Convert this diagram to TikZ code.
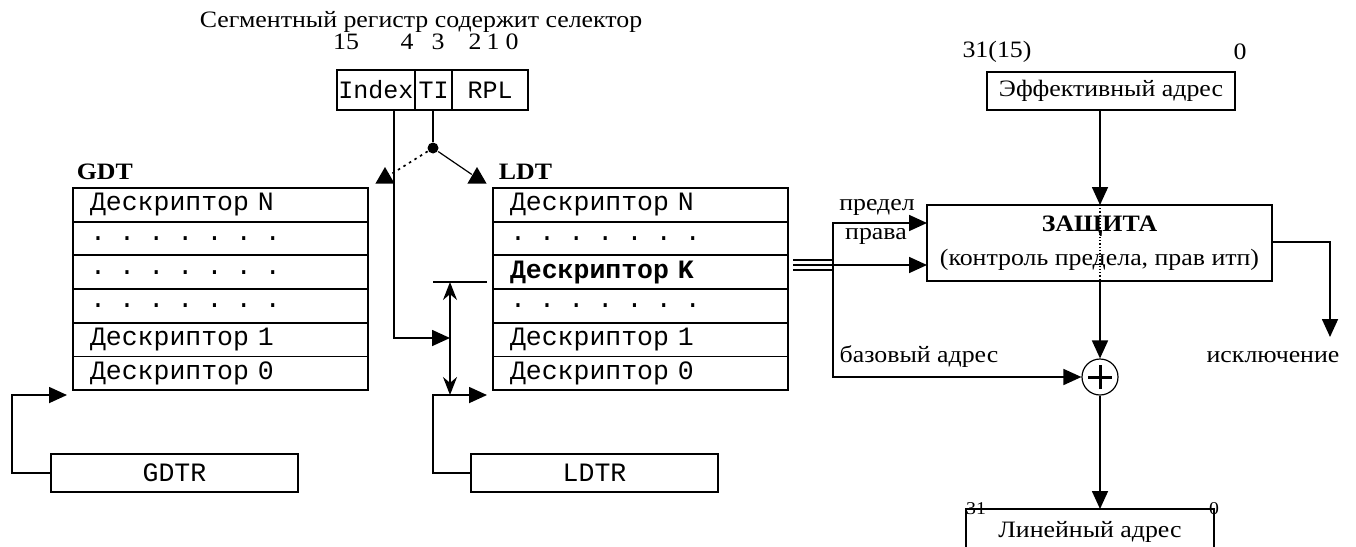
\documentclass[tikz,border=0pt]{standalone}
\usepackage{fontspec}
\setmainfont{Liberation Serif}[FakeStretch=1.1]
\newfontfamily\cour{Liberation Mono}
\usetikzlibrary{arrows.meta,positioning,shapes.geometric}
\newcommand\txtfont{\fontsize{23.5}{34}\selectfont}
\newcommand\tabfont{\cour\fontsize{26.5}{30}\selectfont}
\newcommand\selfont{\cour\fontsize{25}{30}\selectfont}

\begin{document}
\begin{tikzpicture}[x=1pt,y=-1pt,>={Triangle[length=18pt,width=16pt]},
  line width=1.7pt,font=\txtfont,node distance=0pt,
  row/.style={draw,outer sep=0pt,inner ysep=0pt,inner xsep=17pt,text width=261pt,
    minimum height=33.67pt,align=left,font=\tabfont},
  box/.style={draw,outer sep=0pt,inner sep=0pt},
  sel/.style={box,minimum height=40pt,font=\selfont},
  reg/.style={box,minimum width=247pt,minimum height=38pt,font=\tabfont},
  tri/.style={regular polygon,regular polygon sides=3,fill,inner sep=0pt,minimum size=22pt},
  lbl/.style={inner sep=0pt},
  arr/.style={->}]
\useasboundingbox (0,0) rectangle (1356,546);
\clip (0,0) rectangle (1356,546);
\node[lbl] (title) at (421,22) {Сегментный регистр содержит селектор};
\node[lbl] (b15) at (346,42) {15};
\node[lbl] (b4) at (407,42) {4};
\node[lbl] (b3) at (438,42) {3};
\node[lbl] (b2) at (475,42) {2};
\node[lbl] (b1) at (493,42) {1};
\node[lbl] (b0) at (512,42) {0};
\node[sel,minimum width=78pt,anchor=north west] (idx) at (337,70) {Index};
\node[sel,minimum width=37pt,right=of idx] (ti) {TI};
\node[sel,minimum width=76pt,right=of ti] (rpl) {RPL};
\node[circle,fill,inner sep=0pt,minimum size=11pt] (tidot) at (433,148) {};
\node[tri] (gtip) at (385,178) {};
\node[tri] (ltip) at (477,178) {};
\node[lbl,anchor=west,font=\txtfont\bfseries] (gdtlbl) at (76,172) {GDT};
\node[lbl,anchor=west,font=\txtfont\bfseries] (ldtlbl) at (498,172) {LDT};
\node[row,anchor=north west] (g1) at (73,188) {Дескриптор N};
\node[row,below=of g1] (g2) {. . . . . . .};
\node[row,below=of g2] (g3) {. . . . . . .};
\node[row,below=of g3] (g4) {. . . . . . .};
\node[row,below=of g4] (g5) {Дескриптор 1};
\node[row,below=of g5] (g6) {Дескриптор 0};
\node[row,anchor=north west] (l1) at (493,188) {Дескриптор N};
\node[row,below=of l1] (l2) {. . . . . . .};
\node[row,below=of l2] (l3) {\bfseries Дескриптор K};
\node[row,below=of l3] (l4) {. . . . . . .};
\node[row,below=of l4] (l5) {Дескриптор 1};
\node[row,below=of l5] (l6) {Дескриптор 0};
\node[reg,anchor=north west] (gdtr) at (51,454) {GDTR};
\node[reg,anchor=north west] (ldtr) at (471,454) {LDTR};
\coordinate (ktop) at (450,282);
\coordinate (kbot) at (450,395);
\coordinate (kin) at (450,338);
\coordinate (bus) at (833,265);
\node[lbl] (b3115) at (997,52) {31(15)};
\node[lbl] (b0e) at (1240,52) {0};
\node[box,minimum width=248pt,minimum height=38pt,anchor=north west] (eff) at (987,72) {Эффективный адрес};
\node[box,minimum width=345pt,minimum height=76pt,anchor=north west,align=center] (zash) at (927,205)
  {\textbf{ЗАЩИТА}\\(контроль предела, прав итп)};
\node[circle,draw,line width=1.2pt,inner sep=0pt,minimum size=36pt] (plus) at (1100,377) {};
\node[box,minimum width=248pt,minimum height=46pt] (lin) at (1090,532) {Линейный адрес};
\node[lbl,font=\fontsize{18}{20}\selectfont] (b31) at (976,509) {31};
\node[lbl,font=\fontsize{18}{20}\selectfont] (b0l) at (1214,509) {0};
\node[lbl] (pred) at (877,207) {предел};
\node[lbl] (prava) at (876,236) {права};
\node[lbl] (base) at (919,357) {базовый адрес};
\node[lbl] (exc) at (1273,357) {исключение};
\coordinate (excin) at (1330,337);
\draw (tidot |- ti.south) -- (tidot);
\draw[dash pattern=on 2.5pt off 4pt] (tidot) -- (gtip);
\draw[line width=1.2pt] (tidot) -- (ltip);
\draw[arr] ([xshift=-21pt]idx.south east) |- (kin);
\draw (433,282) -- (487,282);
\draw[{Stealth[length=18pt,width=14pt]}-{Stealth[length=18pt,width=14pt]}] (ktop) -- (kbot);
\draw[arr] (gdtr.west) -- ++(-39,0) |- ([shift={(-6,5)}]g6.south west);
\draw[arr] (ldtr.west) -- ++(-38,0) |- ([shift={(-6,5)}]l6.south west);
\draw (793,260) -- (bus |- 0,260);
\draw (793,265) -- (bus);
\draw (793,270) -- (bus |- 0,270);
\draw[arr] (bus) |- ([yshift=-18pt]zash.north west);
\draw[arr] (bus) -- ([yshift=-60pt]zash.north west);
\draw[arr] (bus) |- (plus.west);
\draw[arr] (eff.south -| plus) -- (zash.north -| plus);
\draw[line width=1.2pt,dotted] (zash.north -| plus) -- (zash.south -| plus);
\draw[arr] (zash.south -| plus) -- (plus.north);
\draw[line width=3pt] ([xshift=-12pt]plus.center) -- ([xshift=12pt]plus.center);
\draw[line width=3pt] ([yshift=-12pt]plus.center) -- ([yshift=12pt]plus.center);
\draw[arr] (plus.south) -- (lin.north -| plus);
\draw[arr] ([yshift=-37pt]zash.north east) -| (excin);
\end{tikzpicture}
\end{document}
